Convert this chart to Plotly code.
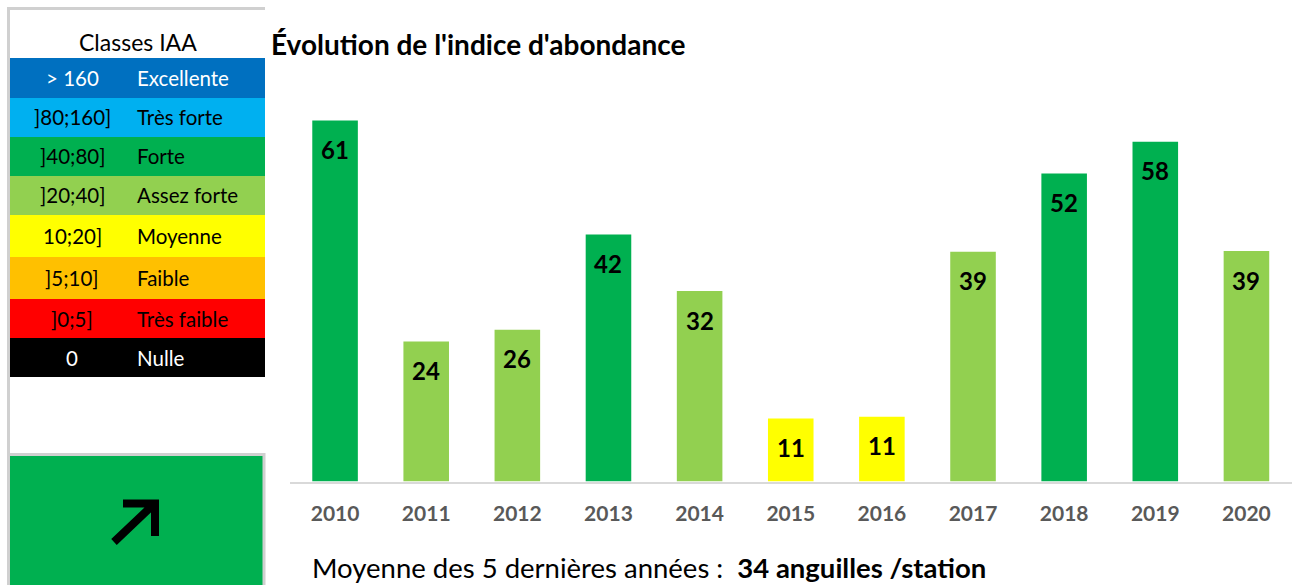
import plotly.graph_objects as go

# ---- data ----
years = ["2010", "2011", "2012", "2013", "2014", "2015", "2016", "2017", "2018", "2019", "2020"]
iaa_values = [61.4, 23.8, 25.8, 42.0, 32.4, 10.7, 11.0, 39.1, 52.4, 57.8, 39.2]

class_ranges = ["> 160", "]80;160]", "]40;80]", "]20;40]", "10;20]", "]5;10]", "]0;5]", "0"]
class_names = ["Excellente", "Très forte", "Forte", "Assez forte", "Moyenne", "Faible", "Très faible", "Nulle"]
class_colors = ["#0070C0", "#00B0F0", "#00B050", "#92D050", "#FFFF00", "#FFC000", "#FF0000", "#000000"]
class_text_colors = ["white", "black", "black", "black", "black", "black", "black", "white"]
class_lower = [160, 80, 40, 20, 10, 5, 0, -1]

mean_text = "Moyenne des 5 dernières années :  <b>34 anguilles /station</b>"
title_text = "Évolution de l'indice d'abondance"
trend_color = "#00B050"

W, H = 1305, 585
FONT = "Lato"


def X(px):
    return px / W


def Y(py):
    return 1 - py / H


def class_color(v):
    for lo, c in zip(class_lower, class_colors):
        if v > lo:
            return c
    return class_colors[-1]


bar_colors = [class_color(v) for v in iaa_values]

fig = go.Figure()
fig.add_trace(go.Bar(
    x=years, y=iaa_values,
    marker=dict(color=bar_colors, line=dict(width=0)),
    hoverinfo="x+y",
))

annotations = []
for i, v in enumerate(iaa_values):
    annotations.append(dict(
        x=i, y=v, xref="x", yref="y", text=f"{v:.0f}", showarrow=False,
        yanchor="middle", yshift=-29,
        font=dict(family=FONT, size=24, color="black", weight="bold"),
    ))

# title
annotations.append(dict(
    x=X(269), y=Y(44), xref="paper", yref="paper", text=f"<b>{title_text}</b>",
    showarrow=False, xanchor="left", yanchor="middle",
    font=dict(family=FONT, size=28, color="black"),
))
# mean text
annotations.append(dict(
    x=X(310), y=Y(567), xref="paper", yref="paper", text=mean_text,
    showarrow=False, xanchor="left", yanchor="middle",
    font=dict(family=FONT, size=27.5, color="black"),
))

shapes = []
# grey frame (left + top)
shapes.append(dict(type="line", xref="paper", yref="paper", x0=X(8.5), x1=X(8.5), y0=Y(8.5), y1=Y(585),
                   line=dict(color="#D0D0D0", width=3)))
shapes.append(dict(type="line", xref="paper", yref="paper", x0=X(7), x1=X(265), y0=Y(8.5), y1=Y(8.5),
                   line=dict(color="#D0D0D0", width=3)))

# header
annotations.append(dict(
    x=X(137.5), y=Y(42), xref="paper", yref="paper", text="Classes IAA",
    showarrow=False, xanchor="center", yanchor="middle",
    font=dict(family=FONT, size=23, color="black"),
))

row_edges = [58, 98, 137, 176, 215, 257, 299, 338, 377]
for i, (rng, name, col, tcol) in enumerate(zip(class_ranges, class_names, class_colors, class_text_colors)):
    y0, y1 = row_edges[i], row_edges[i + 1]
    shapes.append(dict(type="rect", xref="paper", yref="paper", x0=X(10), x1=X(265), y0=Y(y1), y1=Y(y0),
                       fillcolor=col, line=dict(width=0), layer="below"))
    ym = (y0 + y1) / 2
    annotations.append(dict(x=X(72), y=Y(ym), xref="paper", yref="paper", text=rng, showarrow=False,
                            xanchor="center", yanchor="middle",
                            font=dict(family=FONT, size=20.5, color=tcol)))
    annotations.append(dict(x=X(135), y=Y(ym), xref="paper", yref="paper", text=name, showarrow=False,
                            xanchor="left", yanchor="middle",
                            font=dict(family=FONT, size=20.5, color=tcol)))

# trend box
shapes.append(dict(type="rect", xref="paper", yref="paper", x0=X(8.5), x1=X(264), y0=Y(590), y1=Y(454.5),
                   fillcolor=trend_color, line=dict(color="#D0D0D0", width=3), layer="below"))
# arrow
arrow_path = (f"M {X(114)} {Y(542)} L {X(154)} {Y(504)} "
              f"M {X(123)} {Y(503.5)} L {X(155)} {Y(503.5)} L {X(155)} {Y(536)}")
shapes.append(dict(type="path", xref="paper", yref="paper", path=arrow_path,
                   line=dict(color="black", width=8)))

fig.update_layout(
    width=W, height=H, autosize=False,
    margin=dict(l=0, r=0, t=0, b=0, pad=0, autoexpand=False),
    paper_bgcolor="white", plot_bgcolor="white",
    showlegend=False, bargap=0.5,
    xaxis=dict(domain=[X(289.5), X(1292)], type="category", range=[-0.5, len(years) - 0.5],
               automargin=False, showgrid=False, zeroline=False,
               showline=True, linecolor="#D9D9D9", linewidth=1.5,
               ticks="outside", ticklen=13, tickcolor="rgba(0,0,0,0)",
               tickfont=dict(family=FONT, size=21, color="#595959", weight="bold")),
    yaxis=dict(domain=[Y(481.5), Y(70)], range=[0, 70], visible=False, automargin=False,
               showgrid=False, zeroline=False),
    shapes=shapes, annotations=annotations,
    font=dict(family=FONT),
)

fig.write_html("out.html", post_script="document.body.style.margin='0';",
               config={"displayModeBar": False})
